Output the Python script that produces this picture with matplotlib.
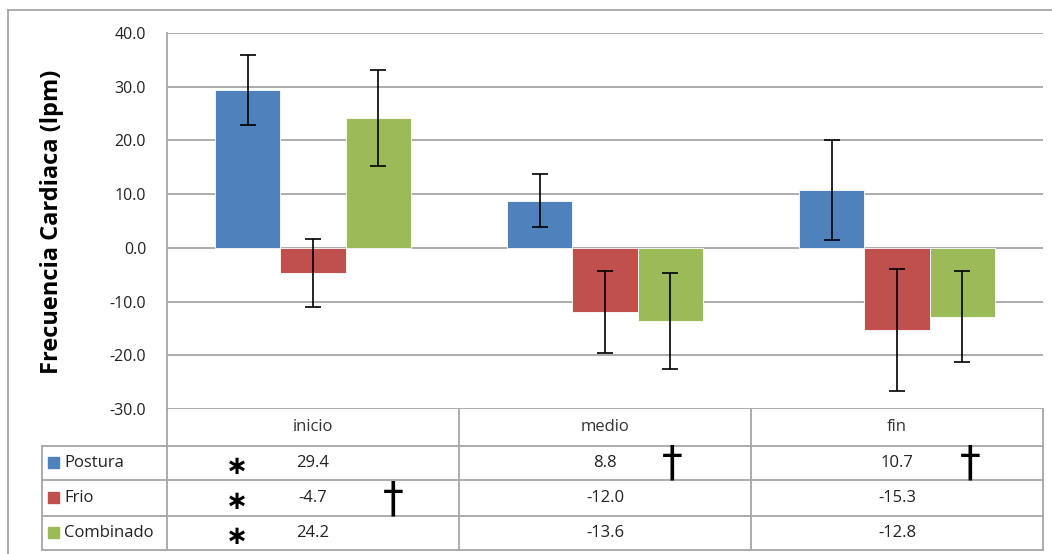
import matplotlib.pyplot as plt
import matplotlib.transforms as mtransforms
from matplotlib.lines import Line2D
from matplotlib.patches import Rectangle
import numpy as np

momentos = ['inicio', 'medio', 'fin']
series = ['Postura', 'Frio', 'Combinado']
postura = [29.4, 8.8, 10.7]
frio = [-4.7, -12.0, -15.3]
combinado = [24.2, -13.6, -12.8]
err_postura = [6.5, 4.9, 9.3]
err_frio = [6.3, 7.6, 11.4]
err_combinado = [9.0, 8.9, 8.5]
# marcas de significancia: (serie, momento)
asteriscos = [(0, 0), (1, 0), (2, 0)]
cruces = [(1, 0), (0, 1), (0, 2)]

colores = ['#4F81BD', '#C0504D', '#9BBB59']
gris = '#A6A6A6'

W, H = 1052, 554
fig = plt.figure(figsize=(W / 100, H / 100), dpi=100)
plt.rcParams['font.family'] = ['Open Sans', 'DejaVu Sans']


def fx(x):
    return x / W


def fy(y):
    return 1 - y / H


ax = fig.add_axes([fx(167), fy(409), fx(1043) - fx(167), fy(33) - fy(409)])

x = np.arange(len(momentos))
ancho = 0.223
valores = [postura, frio, combinado]
errores = [err_postura, err_frio, err_combinado]
for i, (vals, errs) in enumerate(zip(valores, errores)):
    ax.bar(x + (i - 1) * ancho, vals, ancho, color=colores[i],
           edgecolor='white', linewidth=0.6, zorder=3,
           yerr=errs, error_kw=dict(ecolor='black', elinewidth=1.2,
                                    capsize=6, capthick=1.2, zorder=4))

ax.set_xlim(-0.5, 2.5)
ax.set_ylim(-30, 40)
ax.set_yticks(np.arange(-30, 41, 10))
ax.set_yticklabels([f'{v:.1f}' for v in np.arange(-30, 41, 10)],
                   fontsize=11.5, color='#222222')
ax.set_xticks([])
ax.tick_params(axis='y', length=0, pad=15)
ax.yaxis.grid(True, color=gris, linewidth=1.3, zorder=0)
for s in ['top', 'right', 'bottom']:
    ax.spines[s].set_visible(False)
ax.spines['left'].set_color(gris)
ax.spines['left'].set_linewidth(1.3)
ax.set_ylabel('Frecuencia Cardiaca (lpm)', fontsize=17, fontweight='bold')
ax.yaxis.set_label_coords(-0.118, 0.497)

# tabla de datos bajo el grafico
def hline(y, x0, x1):
    fig.add_artist(Line2D([fx(x0), fx(x1)], [fy(y), fy(y)], color=gris,
                          linewidth=1.3, transform=fig.transFigure))


def vline(xp, y0, y1):
    fig.add_artist(Line2D([fx(xp), fx(xp)], [fy(y0), fy(y1)], color=gris,
                          linewidth=1.3, transform=fig.transFigure))


filas_y = [446, 480, 516, 550]
for yy in filas_y:
    hline(yy, 42, 1043)
vline(42, 446, 550)
for xp in [167, 459, 751, 1043]:
    vline(xp, 409, 550)

trans = mtransforms.blended_transform_factory(ax.transData, fig.transFigure)
centros = [463, 498, 533]
for j, m in enumerate(momentos):
    fig.text(j, fy(427), m, transform=trans, ha='center', va='center',
             fontsize=12, color='#333333')
    for i in range(3):
        fig.text(j, fy(centros[i]), f'{valores[i][j]:.1f}', transform=trans,
                 ha='center', va='center', fontsize=12, color='#222222')

for i, s in enumerate(series):
    fig.add_artist(Rectangle((fx(48), fy(centros[i]) - 5 / H), 11 / W, 11 / H,
                             color=colores[i], transform=fig.transFigure))
    fig.text(fx(64), fy(centros[i]), s, ha='left', va='center',
             fontsize=12, color='#222222')

for i, j in asteriscos:
    fig.text(j - 0.26, fy(centros[i] + 4), '\u2217', transform=trans,
             ha='center', va='center', fontsize=19, fontweight='bold',
             family='DejaVu Sans')

offs = {(1, 0): 0.274, (0, 1): 0.229, (0, 2): 0.25}
for i, j in cruces:
    fig.text(j + offs[(i, j)], fy(centros[i] + 1), '\u2020', transform=trans,
             ha='center', va='center', fontsize=30,
             family='DejaVu Sans')

# marco exterior
vline(8, 10, 560)
hline(10, 8, 1060)

fig.savefig('out.png', dpi=100)
